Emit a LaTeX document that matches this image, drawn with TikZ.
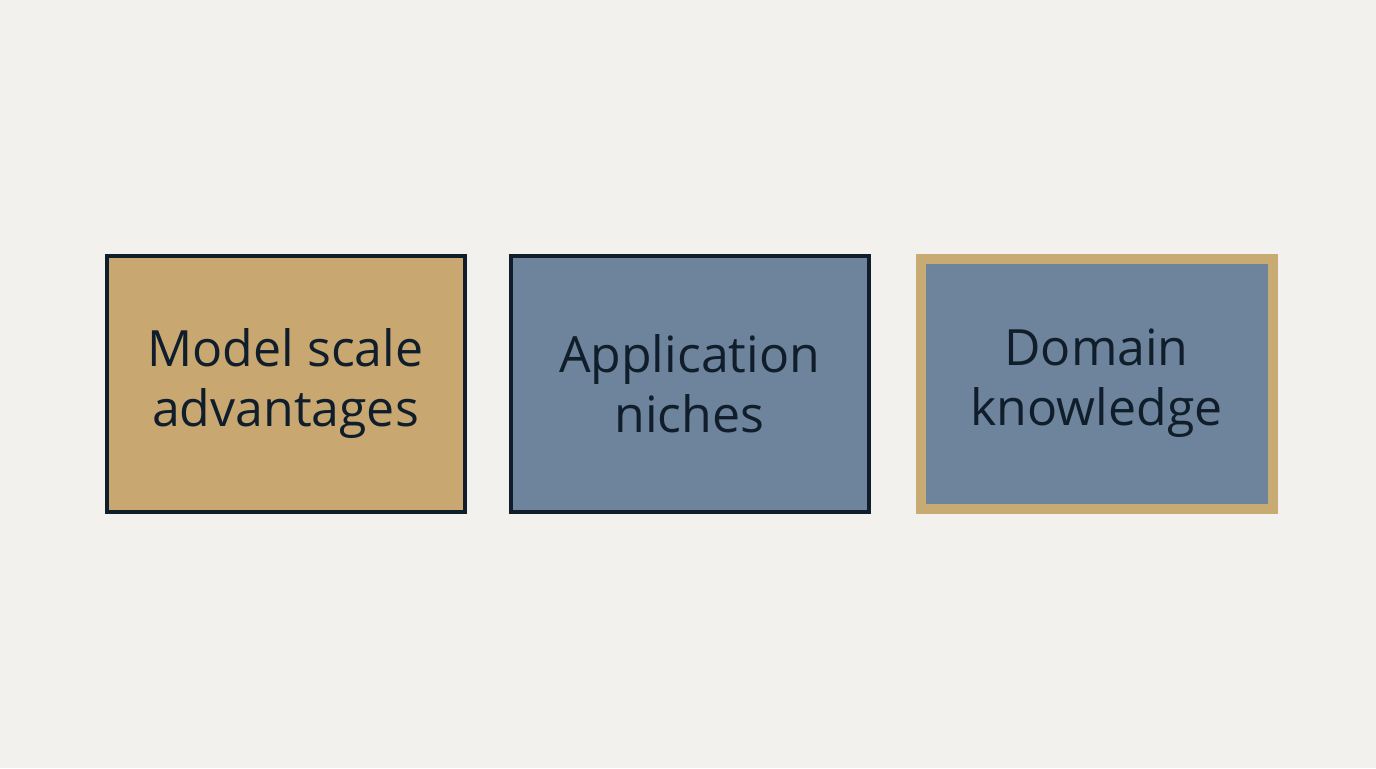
\documentclass[tikz,border=0pt]{standalone}
\usepackage{fontspec}
\setmainfont{Open Sans}
\usetikzlibrary{positioning}
\definecolor{bgcream}{RGB}{242,241,237}
\definecolor{inknavy}{RGB}{16,30,44}
\definecolor{sandfill}{RGB}{200,168,112}
\definecolor{slatefill}{RGB}{110,132,156}
\definecolor{goldedge}{RGB}{200,170,115}
\tikzset{
  factor/.style={rectangle, minimum width=179pt, minimum height=128pt, inner sep=0pt,
    align=center, text=inknavy, font=\fontsize{25}{30}\selectfont},
}
\begin{document}
\begin{tikzpicture}[x=0.5pt,y=-0.5pt]
%background
\fill[bgcream] (0,0) rectangle (1376,768);
% Text Node
\node (scale) [factor, fill=sandfill, draw=inknavy, line width=2pt] at (285.5,383.5) {Model scale\\advantages};
% Text Node
\node (niche) [factor, fill=slatefill, draw=inknavy, line width=2pt, right=21pt of scale] {Application\\niches};
% Text Node
\node (domain) [factor, fill=slatefill, draw=goldedge, line width=5pt, minimum width=176pt, minimum height=125pt, right=22.5pt of niche] {Domain\\knowledge};
\end{tikzpicture}
\end{document}
